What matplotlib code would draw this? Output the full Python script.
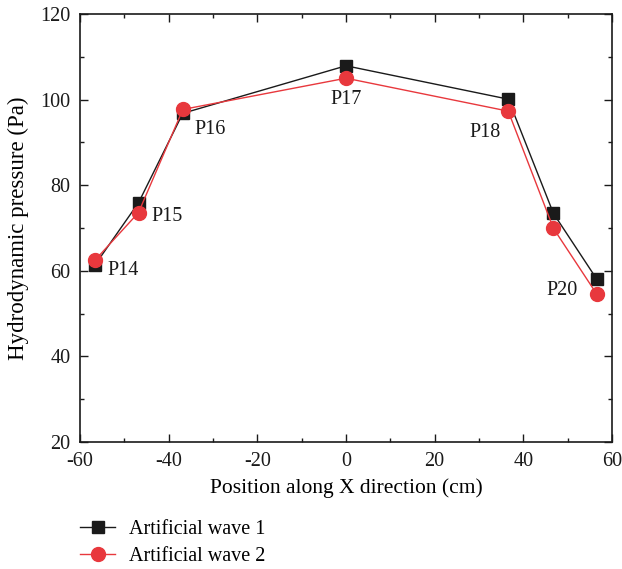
import matplotlib.pyplot as plt
from matplotlib.ticker import MultipleLocator

# positions along X (cm) and pressures (Pa)
x_pos = [-56.6, -46.8, -36.8, 0, 36.6, 46.8, 56.6]
wave1 = [61.4, 75.9, 96.8, 107.9, 100.1, 73.4, 58.0]
wave2 = [62.5, 73.6, 97.7, 105.0, 97.3, 69.9, 54.5]

point_names = ['P14', 'P15', 'P16', 'P17', 'P18', 'P20']
label_x = [-53.7, -43.8, -34.1, 0, 31.4, 48.7]
label_y = [60.0, 72.8, 92.9, 100.0, 92.2, 55.5]
label_ha = ['left', 'left', 'left', 'center', 'center', 'center']

plt.rcParams['font.family'] = ['Liberation Serif', 'DejaVu Serif']
plt.rcParams['axes.unicode_minus'] = False

fig = plt.figure(figsize=(6.22, 5.69), dpi=100)
ax = fig.add_axes([0.1286, 0.2232, 0.8553, 0.7522])

l1, = ax.plot(x_pos, wave1, '-s', color='#1a1a1a', lw=1.0, ms=8.5,
              mec='#1a1a1a', mfc='#1a1a1a', label='Artificial wave 1', zorder=3)
l2, = ax.plot(x_pos, wave2, '-o', color='#e8383d', lw=1.0, ms=10,
              mec='#e8383d', mfc='#e8383d', label='Artificial wave 2', zorder=4)

for name, tx, ty, ha in zip(point_names, label_x, label_y, label_ha):
    ax.text(tx, ty, name, ha=ha, va='center', fontsize=14.5, color='#1a1a1a')

ax.set_xlim(-60, 60)
ax.set_ylim(20, 120)
ax.xaxis.set_major_locator(MultipleLocator(20))
ax.xaxis.set_minor_locator(MultipleLocator(10))
ax.yaxis.set_major_locator(MultipleLocator(20))
ax.yaxis.set_minor_locator(MultipleLocator(10))
ax.tick_params(which='both', direction='in', top=True, right=True,
               labelsize=14.5, colors='#1a1a1a')
ax.tick_params(which='major', length=6, width=1)
ax.tick_params(axis='x', which='major', pad=7)
ax.tick_params(axis='y', which='major', pad=7)
ax.tick_params(which='minor', length=3, width=1)
for s in ax.spines.values():
    s.set_linewidth(1.2)
    s.set_color('#1a1a1a')

ax.set_xlabel('Position along X direction (cm)', fontsize=15.5, va='center')
ax.set_ylabel('Hydrodynamic pressure (Pa)', fontsize=16.5, va='center')
ax.xaxis.set_label_coords(0.5, -0.107)
ax.yaxis.set_label_coords(-0.1165, 0.5)

fig.legend(handles=[l1, l2], loc='upper left', bbox_to_anchor=(0.116, 0.1002),
           frameon=False, fontsize=14.5, handlelength=1.75, labelspacing=0.4,
           borderaxespad=0, handletextpad=0.65)

fig.savefig('out.png', dpi=100)
